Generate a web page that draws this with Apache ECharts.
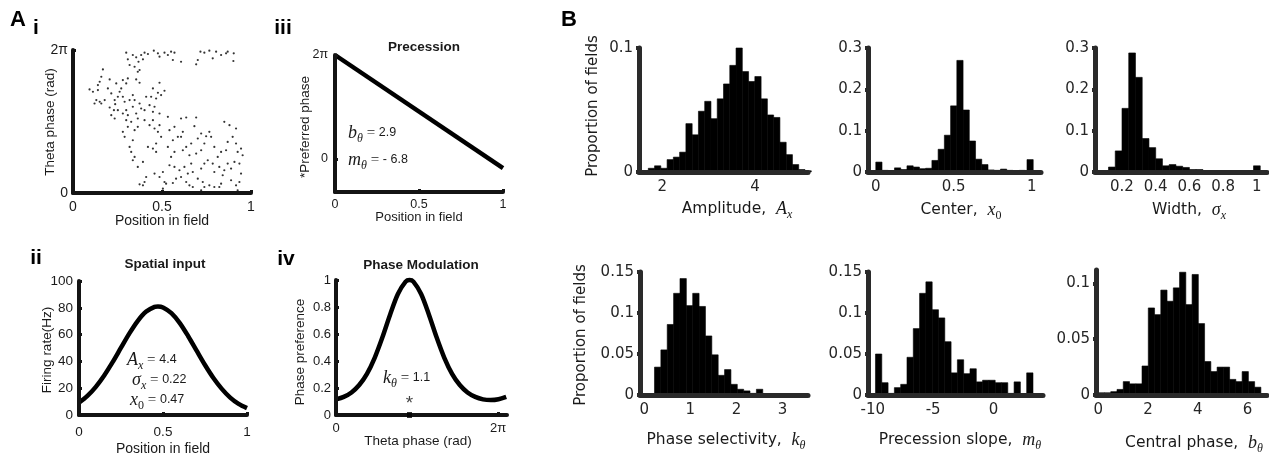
<!DOCTYPE html>
<html><head><meta charset="utf-8">
<script src="https://cdn.jsdelivr.net/npm/echarts@6/dist/echarts.min.js"></script>
<style>html,body{margin:0;padding:0;background:#fff}#c{width:1269px;height:455px}</style>
</head><body><div id="c"></div>
<script>
// ---------------- DATA ----------------
// Ai: spikes, [position in field, theta phase as fraction of a cycle]
const thetaPhaseSpikes = [
[0.299,0.981],[0.308,0.935],[0.336,0.965],[0.355,0.949],[0.368,0.918],[0.383,0.965],[0.393,0.935],[0.402,0.981],[0.421,0.972],[0.454,0.995],[0.477,0.977],[0.486,0.953],[0.514,0.981],[0.533,0.965],[0.551,0.988],[0.561,0.930],[0.607,0.918],[0.318,0.895],[0.346,0.883],[0.374,0.860],[0.716,0.988],[0.738,0.981],[0.766,0.995],[0.785,0.942],[0.804,0.988],[0.832,0.965],[0.860,0.977],[0.869,0.988],[0.903,0.977],[0.901,0.923],[0.701,0.930],[0.692,0.900],[0.570,0.981],
[0.168,0.864],[0.159,0.813],[0.150,0.778],[0.206,0.794],[0.243,0.766],[0.280,0.790],[0.271,0.731],[0.299,0.766],[0.308,0.801],[0.355,0.794],[0.364,0.848],[0.374,0.771],[0.093,0.724],[0.112,0.708],[0.131,0.650],[0.140,0.720],[0.159,0.626],[0.196,0.731],[0.215,0.696],[0.234,0.650],[0.252,0.673],[0.262,0.708],[0.206,0.598],[0.230,0.579],[0.237,0.621],[0.280,0.673],[0.290,0.638],[0.318,0.650],[0.336,0.685],[0.346,0.650],[0.336,0.603],[0.299,0.579],[0.308,0.544],[0.280,0.556],[0.215,0.544],[0.234,0.521],[0.252,0.579],[0.486,0.771],[0.449,0.731],[0.477,0.701],[0.495,0.685],[0.514,0.715],[0.467,0.661],[0.439,0.673],[0.411,0.673],[0.374,0.626],[0.383,0.591],[0.402,0.579],[0.355,0.556],[0.364,0.521],[0.430,0.614],[0.449,0.568],[0.458,0.603],[0.486,0.556],[0.121,0.626],[0.150,0.638],[0.178,0.650],[0.140,0.755],
[0.299,0.509],[0.308,0.463],[0.327,0.498],[0.346,0.439],[0.280,0.428],[0.290,0.393],[0.336,0.369],[0.364,0.463],[0.402,0.509],[0.430,0.474],[0.449,0.509],[0.458,0.451],[0.477,0.428],[0.486,0.474],[0.495,0.393],[0.533,0.533],[0.542,0.439],[0.570,0.463],[0.607,0.521],[0.636,0.528],[0.692,0.528],[0.682,0.467],[0.617,0.428],[0.589,0.393],[0.561,0.369],[0.533,0.322],[0.467,0.346],[0.449,0.311],[0.421,0.322],[0.467,0.287],[0.318,0.322],[0.327,0.287],[0.346,0.252],[0.570,0.287],[0.607,0.393],[0.636,0.322],[0.664,0.346],[0.701,0.381],[0.720,0.416],[0.748,0.397],[0.766,0.428],[0.776,0.393],[0.738,0.346],[0.720,0.299],[0.692,0.276],[0.850,0.498],[0.879,0.474],[0.916,0.451],[0.897,0.393],[0.869,0.357],[0.916,0.346],[0.944,0.311],[0.860,0.299],[0.794,0.322],[0.813,0.252],[0.832,0.287],[0.654,0.264],[0.617,0.299],[0.925,0.287],[0.953,0.264],
[0.336,0.229],[0.364,0.182],[0.393,0.217],[0.411,0.112],[0.402,0.077],[0.374,0.061],[0.393,0.054],[0.430,0.007],[0.458,0.136],[0.486,0.112],[0.505,0.147],[0.514,0.077],[0.523,0.065],[0.542,0.194],[0.551,0.252],[0.570,0.182],[0.598,0.159],[0.607,0.112],[0.579,0.100],[0.561,0.070],[0.626,0.182],[0.645,0.136],[0.664,0.206],[0.673,0.147],[0.636,0.077],[0.654,0.054],[0.673,0.042],[0.701,0.100],[0.729,0.077],[0.720,0.171],[0.738,0.206],[0.757,0.229],[0.785,0.206],[0.794,0.147],[0.822,0.182],[0.841,0.124],[0.850,0.159],[0.869,0.206],[0.888,0.171],[0.907,0.217],[0.935,0.206],[0.944,0.136],[0.935,0.077],[0.916,0.054],[0.888,0.089],[0.832,0.065],[0.822,0.042],[0.794,0.042],[0.766,0.054],[0.738,0.042],[0.682,0.007],[0.607,0.007],[0.533,0.007],[0.505,0.030],[0.477,0.007],[0.925,0.019],[0.720,0.019],[0.944,0.007]
];
// Aiii: precession line [position, preferred phase (rad)]
const precessionLine = [[0, 6.283], [1, -0.55]];
// Aii: spatial input curve
const spatialPos  = [0,0.05,0.1,0.15,0.2,0.25,0.3,0.35,0.4,0.45,0.47,0.5,0.55,0.6,0.65,0.7,0.75,0.8,0.85,0.9,0.95,1];
const spatialRate = [9.1,14.2,21.0,29.5,39.4,50.2,60.9,70.3,77.2,80.7,81.0,80.3,76.0,68.6,58.8,48.0,37.3,27.6,19.5,13.0,8.3,5.1];
// Aiv: phase modulation curve
const phaseX    = [0,0.3,0.6,0.9,1.2,1.5,1.8,2.1,2.4,2.7,2.85,3.0,3.3,3.6,3.9,4.2,4.5,4.8,5.1,5.4,5.7,6.0,6.3,6.6];
const phasePref = [0.116,0.134,0.167,0.222,0.305,0.424,0.576,0.745,0.896,0.988,1.0,0.988,0.896,0.745,0.576,0.424,0.305,0.222,0.167,0.134,0.116,0.111,0.117,0.135];
const phasePeak = 2.85;
// B: histograms, [bin left edge, proportion of fields]
const amplitudeBinWidth = 0.135;
const amplitudeHist = [[1.70,0.003],[1.835,0.005],[1.97,0.003],[2.105,0.010],[2.24,0.012],[2.375,0.016],[2.51,0.039],[2.645,0.030],[2.78,0.049],[2.915,0.057],[3.05,0.043],[3.185,0.059],[3.32,0.071],[3.455,0.086],[3.59,0.100],[3.725,0.081],[3.86,0.073],[3.995,0.077],[4.13,0.059],[4.265,0.046],[4.40,0.044],[4.535,0.024],[4.67,0.014],[4.805,0.006],[4.94,0.002],[5.075,0.001]];
const centerBinWidth = 0.04;
const centerHist = [[0,0.024],[0.04,0.004],[0.08,0.003],[0.12,0.010],[0.16,0.006],[0.20,0.015],[0.24,0.012],[0.28,0.008],[0.32,0.009],[0.36,0.028],[0.40,0.055],[0.44,0.089],[0.48,0.160],[0.52,0.270],[0.56,0.150],[0.60,0.075],[0.64,0.031],[0.68,0.018],[0.72,0.005],[0.76,0.004],[0.80,0.007],[0.84,0.004],[0.88,0.003],[0.92,0.004],[0.97,0.030],[1.01,0.003]];
const widthBinWidth = 0.04;
const widthHist = [[0.12,0.012],[0.16,0.051],[0.20,0.154],[0.24,0.288],[0.28,0.229],[0.32,0.081],[0.36,0.059],[0.40,0.032],[0.44,0.015],[0.48,0.018],[0.52,0.014],[0.56,0.011],[0.60,0.006],[0.64,0.006],[0.68,0.003],[0.72,0.002],[0.76,0.002],[0.80,0.002],[0.84,0.002],[0.88,0.001],[0.98,0.015]];
const kBinWidth = 0.138;
const kHist = [[0.224,0.034],[0.362,0.055],[0.50,0.086],[0.638,0.124],[0.776,0.142],[0.914,0.109],[1.052,0.124],[1.19,0.108],[1.328,0.072],[1.466,0.049],[1.604,0.024],[1.742,0.031],[1.88,0.013],[2.018,0.007],[2.156,0.005],[2.294,0.002],[2.432,0.007],[2.57,0.001],[2.708,0.001],[2.846,0.001]];
const slopeBinWidth = 0.522;
const slopeHist = [[-9.78,0.050],[-9.258,0.015],[-8.736,0.002],[-8.214,0.009],[-7.692,0.013],[-7.17,0.046],[-6.648,0.081],[-6.126,0.124],[-5.604,0.138],[-5.082,0.104],[-4.56,0.094],[-4.038,0.065],[-3.516,0.027],[-2.994,0.043],[-2.472,0.026],[-1.95,0.032],[-1.428,0.016],[-0.906,0.018],[-0.384,0.018],[0.138,0.015],[0.66,0.015],[1.182,0.002],[1.704,0.016],[2.748,0.027]];
const centralBinWidth = 0.2513;
const centralHist = [[0,0.002],[0.251,0.002],[0.503,0.003],[0.754,0.005],[1.005,0.012],[1.257,0.010],[1.508,0.010],[1.759,0.026],[2.011,0.078],[2.262,0.072],[2.513,0.094],[2.765,0.084],[3.016,0.096],[3.267,0.110],[3.519,0.081],[3.77,0.108],[4.021,0.064],[4.273,0.030],[4.524,0.021],[4.775,0.025],[5.027,0.025],[5.278,0.014],[5.529,0.012],[5.781,0.021],[6.032,0.012],[6.283,0.007]];
// tick values
const TWO_PI = 2 * Math.PI;
const ticksAi_x = [0,0.5,1], ticksAi_y = [0,TWO_PI];
const ticksAiii_x = [0,0.5,1], ticksAiii_y = [0,TWO_PI];
const ticksAii_x = [0,0.5,1], ticksAii_y = [0,20,40,60,80,100];
const ticksAiv_x = [0,TWO_PI], ticksAiv_y = [0,0.2,0.4,0.6,0.8,1];
const ticksB = [
  {x:[2,4], y:[0,0.1]},
  {x:[0,0.5,1], y:[0,0.1,0.2,0.3]},
  {x:[0.2,0.4,0.6,0.8,1], y:[0,0.1,0.2,0.3]},
  {x:[0,1,2,3], y:[0,0.05,0.1,0.15]},
  {x:[-10,-5,0], y:[0,0.05,0.1,0.15]},
  {x:[0,2,4,6], y:[0,0.05,0.1]}
];

// ---------------- LAYOUT / STYLE ----------------
const SANS_A = 'Liberation Sans, Arial, sans-serif';
const SANS_B = 'DejaVu Sans, sans-serif';
const SERIF = 'Liberation Serif, Times New Roman, serif';
const AXA = '#141414', AXB = '#2a2a2a';

const gridsPx = [
  [73,50,251,193],   // Ai
  [335,55,503,192],  // Aiii
  [79,281,247,415],  // Aii
  [336,280,507,415], // Aiv
  [639,48,808,172],  // B amplitude
  [868,48,1041,172], // B center
  [1095,48,1267,172],// B width
  [640,272,808,395], // B k
  [868,272,1043,395],// B slope
  [1096,270,1267,395]// B central phase
];
const ranges = [
  {x:[0,1], y:[0,TWO_PI]},
  {x:[0,1], y:[-2,TWO_PI]},
  {x:[0,1], y:[0,100]},
  {x:[0,6.63], y:[0,1]},
  {x:[1.5,5.14], y:[0,0.1]},
  {x:[-0.05,1.06], y:[0,0.3]},
  {x:[0.04,1.06], y:[0,0.3]},
  {x:[-0.09,3.55], y:[0,0.15]},
  {x:[-10.4,4.1], y:[0,0.15]},
  {x:[-0.09,6.78], y:[0,0.112]}
];
const fmtNum = v => Math.abs(v - TWO_PI) < 1e-6 ? '2π' : String(+(+v).toFixed(6));

function mkAxis(gi, dim, ticks, isB, xMargin, yMargin, fs) {
  const r = ranges[gi][dim];
  return {
    type:'value', gridIndex:gi, min:r[0], max:r[1], z:10,
    axisLine:{show:true, onZero:false, lineStyle:{color:isB?AXB:AXA, width:isB?5:4}},
    axisTick:{show:true, inside:!isB, length:3, customValues:ticks, lineStyle:{color:isB?AXB:AXA, width:isB?4:3}},
    axisLabel:{show:true, customValues:ticks, formatter:fmtNum, margin: dim==='x'?xMargin:yMargin,
      fontSize:fs, fontFamily:isB?SANS_B:SANS_A, color:isB?'#262626':'#1a1a1a'},
    splitLine:{show:false}, splitArea:{show:false}
  };
}

const xAxes = [], yAxes = [];
const aTicks = [[ticksAi_x,ticksAi_y,7,5,14],[ticksAiii_x,ticksAiii_y,6,7,12.5],[ticksAii_x,ticksAii_y,10,6,13.5],[ticksAiv_x,ticksAiv_y,7,5,13]];
aTicks.forEach((t,i) => { xAxes.push(mkAxis(i,'x',t[0],false,t[2],t[3],t[4])); yAxes.push(mkAxis(i,'y',t[1],false,t[2],t[3],t[4])); });
ticksB.forEach((t,j) => { const gi = 4+j; xAxes.push(mkAxis(gi,'x',t.x,true,8,6,15)); yAxes.push(mkAxis(gi,'y',t.y,true,8,6,15)); });

function histSeries(gi, hist, w) {
  return {
    type:'custom', xAxisIndex:gi, yAxisIndex:gi, z:2,
    data: hist.map(([l,p]) => [l, l + w, p]),
    encode:{x:[0,1], y:2},
    renderItem: (params, api) => {
      const p0 = api.coord([api.value(0), 0]);
      const p1 = api.coord([api.value(1), api.value(2)]);
      return {type:'rect', shape:{x:p0[0], y:p1[1], width:p1[0]-p0[0], height:p0[1]-p1[1]},
        style:{fill:'#000', stroke:'#000', lineWidth:0.6}};
    }
  };
}

const series = [
  {type:'scatter', xAxisIndex:0, yAxisIndex:0, symbolSize:2.2, itemStyle:{color:'#000'},
   data: thetaPhaseSpikes.map(([x,c]) => [x, c * TWO_PI]), silent:true},
  {type:'line', xAxisIndex:1, yAxisIndex:1, data:precessionLine, symbol:'none', clip:false,
   lineStyle:{color:'#000', width:4.5}},
  {type:'line', xAxisIndex:2, yAxisIndex:2, data:spatialPos.map((x,i)=>[x,spatialRate[i]]), symbol:'none', smooth:0.3, clip:false,
   lineStyle:{color:'#000', width:4.5}},
  {type:'line', xAxisIndex:3, yAxisIndex:3, data:phaseX.map((x,i)=>[x,phasePref[i]]), symbol:'none', smooth:0.3, clip:false,
   lineStyle:{color:'#000', width:4.5}},
  {type:'scatter', xAxisIndex:3, yAxisIndex:3, data:[[phasePeak,0]], symbol:'rect', symbolSize:[5,6], z:12,
   itemStyle:{color:'#000'}, label:{show:true, formatter:'*', position:'top', distance:-1, fontSize:19, fontFamily:SANS_A, color:'#111'}},
  histSeries(4, amplitudeHist, amplitudeBinWidth),
  histSeries(5, centerHist, centerBinWidth),
  histSeries(6, widthHist, widthBinWidth),
  histSeries(7, kHist, kBinWidth),
  histSeries(8, slopeHist, slopeBinWidth),
  histSeries(9, centralHist, centralBinWidth)
];

// ---------------- TEXTS ----------------
const rich = {
  t:{fontFamily:SANS_B, fontSize:15.5, color:'#1a1a1a', lineHeight:24},
  m:{fontFamily:SERIF, fontStyle:'italic', fontSize:18, color:'#1a1a1a', lineHeight:24},
  s:{fontFamily:SERIF, fontStyle:'italic', fontSize:12, color:'#1a1a1a', lineHeight:14, verticalAlign:'bottom'},
  s0:{fontFamily:SERIF, fontSize:12, color:'#1a1a1a', lineHeight:14, verticalAlign:'bottom'},
  e:{fontFamily:SERIF, fontSize:15, color:'#1a1a1a', lineHeight:24},
  n:{fontFamily:SANS_A, fontSize:12.5, color:'#1a1a1a', lineHeight:24}
};
function txt(x, y, text, o) {
  o = o || {};
  return {type:'text', x, y, rotation:o.rot||0, z:20,
    style:{text, fontSize:o.fs||14, fontFamily:o.ff||SANS_A, fontWeight:o.fw||'normal', fill:o.fill||'#1a1a1a',
      align:o.align||'center', verticalAlign:'middle', rich}};
}
const R = Math.PI/2;
const graphics = [
  txt(18,20,'A',{fs:22,fw:'bold',fill:'#000'}),
  txt(569,20,'B',{fs:22,fw:'bold',fill:'#000'}),
  txt(36,28,'i',{fs:21,fw:'bold',fill:'#000'}),
  txt(283,28,'iii',{fs:21,fw:'bold',fill:'#000'}),
  txt(36,258,'ii',{fs:21,fw:'bold',fill:'#000'}),
  txt(286,259,'iv',{fs:21,fw:'bold',fill:'#000'}),
  // panel A titles & axis names
  txt(162,221,'Position in field',{fs:14}),
  txt(50,122,'Theta phase (rad)',{fs:13.5,rot:R}),
  txt(424,47,'Precession',{fs:13.5,fw:'bold'}),
  txt(419,217,'Position in field',{fs:13}),
  txt(305,127,'*Preferred phase',{fs:13.5,rot:R}),
  txt(165,264,'Spatial input',{fs:13.5,fw:'bold'}),
  txt(163,449,'Position in field',{fs:14}),
  txt(47,350,'Firing rate(Hz)',{fs:13.5,rot:R}),
  txt(421,265,'Phase Modulation',{fs:13.5,fw:'bold'}),
  txt(418,441,'Theta phase (rad)',{fs:13.5}),
  txt(300,352,'Phase preference',{fs:13.5,rot:R}),
  // annotations
  txt(348,133,'{m|b}{s|θ}{e| = }{n|2.9}',{align:'left'}),
  txt(348,160,'{m|m}{s|θ}{e| = }{n|- 6.8}',{align:'left'}),
  txt(127,360,'{m|A}{s|x}{e| = }{n|4.4}',{align:'left'}),
  txt(132,380,'{m|σ}{s|x}{e| = }{n|0.22}',{align:'left'}),
  txt(130,400,'{m|x}{s0|0}{e| = }{n|0.47}',{align:'left'}),
  txt(383,378,'{m|k}{s|θ}{e| = }{n|1.1}',{align:'left'}),
  // panel B axis names
  txt(593,106,'Proportion of fields',{fs:15,ff:SANS_B,rot:R}),
  txt(581,335,'Proportion of fields',{fs:15,ff:SANS_B,rot:R}),
  txt(737,209,'{t|Amplitude,  }{m|A}{s|x}'),
  txt(961,210,'{t|Center,  }{m|x}{s0|0}'),
  txt(1189,210,'{t|Width,  }{m|σ}{s|x}'),
  txt(726,440,'{t|Phase selectivity,  }{m|k}{s|θ}'),
  txt(960,440,'{t|Precession slope,  }{m|m}{s|θ}'),
  txt(1194,443,'{t|Central phase,  }{m|b}{s|θ}')
];

const chart = echarts.init(document.getElementById('c'), null, {renderer:'canvas'});
chart.setOption({
  animation:false,
  backgroundColor:'#fff',
  grid: gridsPx.map(([l,t,r,b]) => ({left:l, top:t, width:r-l, height:b-t, containLabel:false, outerBoundsMode:'none'})),
  xAxis: xAxes,
  yAxis: yAxes,
  series,
  graphic: graphics
});
</script>
</body></html>
